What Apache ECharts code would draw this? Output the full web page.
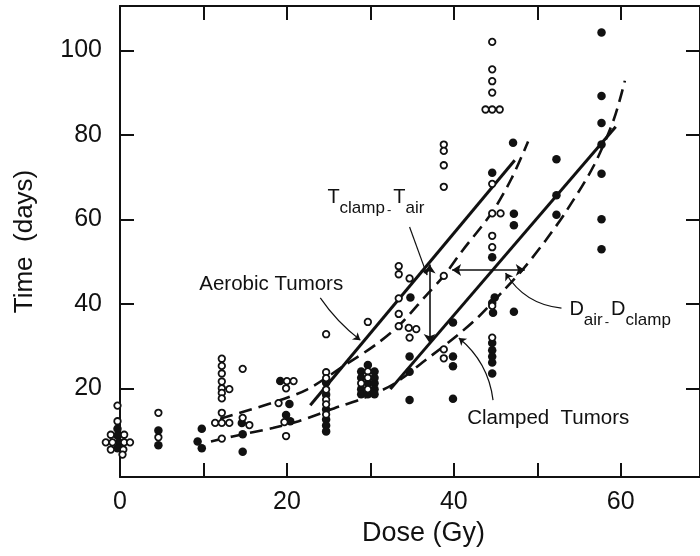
<!DOCTYPE html>
<html>
<head>
<meta charset="utf-8">
<script src="https://cdn.jsdelivr.net/npm/echarts@6/dist/echarts.min.js"></script>
<style>
html, body { margin: 0; padding: 0; background: #fff; }
#main { width: 700px; height: 556px; }
</style>
</head>
<body>
<div id="main"></div>
<script>
// open circles: aerobic tumours [dose, days]
var aerobicPts = [
  [-0.3,15.9],[-0.3,12.2],[-1.1,9.0],[0.5,9.0],[-1.7,7.2],[-0.9,7.2],[0.5,7.2],[1.2,7.2],[-1.1,5.5],[0.4,5.5],[0.3,4.3],
  [4.6,14.2],[4.6,8.4],
  [12.2,27.0],[12.2,25.3],[12.2,23.5],[12.2,21.6],[12.2,20.0],[13.1,19.8],[12.2,18.9],[12.2,17.6],
  [12.2,14.2],[11.4,11.8],[12.2,11.8],[13.1,11.8],[12.2,8.1],
  [14.7,24.6],[14.7,13.0],[15.5,11.3],
  [20.0,21.7],[20.8,21.7],[19.9,20.0],[19.0,16.5],[19.7,12.0],[19.9,8.7],
  [24.7,23.8],[24.7,22.4],[24.7,19.7],[24.7,17.3],[24.7,16.2],[24.7,13.8],[24.7,32.8],
  [29.7,24.0],[29.7,22.5],[28.9,21.2],[29.7,19.8],[29.7,35.7],
  [33.4,48.9],[33.4,47.0],[34.7,46.0],[33.4,41.3],[33.4,37.6],[33.4,34.7],[34.6,34.3],[35.5,34.0],[34.7,32.0],
  [38.8,77.7],[38.8,76.2],[38.8,72.8],[38.8,67.7],[38.8,46.6],[38.8,29.2],[38.8,27.1],
  [44.6,102.0],[44.6,95.5],[44.6,92.7],[44.6,90.0],[43.8,86.0],[44.6,86.0],[45.5,86.0],[44.6,68.4],
  [44.6,61.4],[45.6,61.4],[44.6,56.1],[44.6,53.4],[44.6,39.5],[44.6,32.0]
];
// filled circles: clamped tumours
var clampedPts = [
  [-0.3,10.4],[-0.3,8.8],[-0.1,7.2],[-0.3,5.8],
  [4.6,10.0],[4.6,6.5],
  [9.8,10.4],[9.3,7.4],[9.8,5.8],
  [14.6,11.8],[14.7,9.1],[14.7,5.0],
  [19.2,21.7],[20.3,16.3],[19.9,13.7],[20.4,12.2],
  [24.7,21.3],[24.7,18.5],[24.7,15.0],[24.7,12.6],[24.7,11.2],[24.7,9.8],
  [29.7,25.5],[28.9,24.0],[30.5,24.0],[28.9,22.5],[30.5,22.5],[29.7,21.2],[30.5,21.2],[28.9,19.8],[30.5,19.8],[28.9,18.6],[29.7,18.6],[30.5,18.6],
  [34.8,41.5],[34.7,27.5],[34.7,23.9],[34.7,17.2],
  [39.9,35.6],[39.9,27.5],[39.9,25.2],[39.9,17.5],
  [44.6,71.0],[47.1,78.1],[47.2,61.3],[47.2,58.6],[44.6,51.0],[44.9,41.5],[44.6,40.2],[44.7,37.9],[47.2,38.1],
  [44.6,30.7],[44.6,29.0],[44.6,27.5],[44.6,26.1],[44.6,23.5],
  [52.3,74.2],[52.3,65.7],[52.3,61.1],
  [57.7,104.2],[57.7,89.2],[57.7,82.8],[57.7,77.7],[57.7,70.8],[57.7,60.0],[57.7,52.9]
];

// fitted lines (solid) and curves (dashed)
var aerobicSolid = [[22.8,16.0],[47.3,74.0]];
var clampedSolid = [[32.4,19.8],[59.4,81.9]];
var aerobicDashed = [[12.0,12.8],[18.3,16.6],[22.4,19.7],[27.2,25.8],[30.7,30.4],[33.5,35.0],[36.7,42.0],
  [38.8,46.6],[41.0,52.5],[44.6,61.7],[46.9,69.6],[48.9,78.4]];
var clampedDashed = [[10.9,7.4],[13.5,8.6],[18.3,10.6],[21.4,12.2],[26.3,15.7],[28.7,17.3],[32.7,20.9],
  [36.7,26.8],[40.4,32.5],[43.0,37.0],[45.8,42.8],[48.3,48.2],[51.0,55.0],[53.5,62.0],[56.8,72.8],
  [59.2,83.8],[60.5,92.8]];

// double arrows: T_clamp - T_air (vertical), D_air - D_clamp (horizontal)
var gapArrows = [
  [[37.1,49.3],[37.1,30.7]],
  [[39.8,48.0],[48.5,48.0]]
];
// pointer lines from the labels: [from, to, curveness]
var pointers = [
  [[24.0,41.4],[28.8,31.4], -0.08],
  [[34.7,58.2],[36.8,46.8], 0],
  [[52.9,39.0],[46.2,47.3], 0.25],
  [[44.7,17.2],[40.6,31.9], -0.2]
];
var labels = [
  [[9.5,44.7], 'Aerobic Tumors'],
  [[24.85,64.0], '{m|T}{s|clamp}{d|-}{m|T}{s|air}'],
  [[53.85,37.5], '{m|D}{s|air}{d|-}{m|D}{s|clamp}'],
  [[41.6,13.0], 'Clamped  Tumors']
];

var xTicks = [10, 20, 30, 40, 50, 60];
var xLabels = [0, 20, 40, 60];
var yTicks = [20, 40, 60, 80, 100];

var FONT = '"Liberation Sans", Arial, Helvetica, sans-serif';
var INK = '#111';

var chart = echarts.init(document.getElementById('main'));

var lineAxis = { show: true, onZero: false, lineStyle: { color: INK, width: 2 } };
var tickStyle = { show: true, inside: true, length: 14, lineStyle: { color: INK, width: 2 } };

var option = {
  animation: false,
  backgroundColor: '#fff',
  grid: { left: 120, top: 6, width: 587, height: 471, containLabel: false },
  xAxis: [{
    type: 'value', min: 0, max: 69.5, position: 'bottom',
    name: 'Dose (Gy)', nameLocation: 'middle', nameGap: 40,
    nameTextStyle: { fontFamily: FONT, fontSize: 27, color: INK, padding: [0, 0, 0, 27] },
    axisLine: lineAxis,
    axisTick: Object.assign({ customValues: xTicks }, tickStyle),
    axisLabel: { customValues: xLabels, margin: 13, fontFamily: FONT, fontSize: 25, color: INK },
    splitLine: { show: false }
  }, {
    type: 'value', min: 0, max: 69.5, position: 'top',
    axisLine: lineAxis,
    axisTick: Object.assign({ customValues: xTicks }, tickStyle),
    axisLabel: { show: false }, splitLine: { show: false }
  }],
  yAxis: [{
    type: 'value', min: -1.0, max: 110.5, position: 'left',
    name: 'Time  (days)', nameLocation: 'middle', nameGap: 82, nameRotate: 90,
    nameTextStyle: { fontFamily: FONT, fontSize: 26, color: INK },
    axisLine: lineAxis,
    axisTick: Object.assign({ customValues: yTicks }, tickStyle),
    axisLabel: { customValues: yTicks, margin: 18, fontFamily: FONT, fontSize: 25, color: INK },
    splitLine: { show: false }
  }, {
    type: 'value', min: -1.0, max: 110.5, position: 'right',
    axisLine: lineAxis,
    axisTick: Object.assign({ customValues: yTicks }, tickStyle),
    axisLabel: { show: false }, splitLine: { show: false }
  }],
  series: [
    {
      type: 'line', data: aerobicSolid, showSymbol: false, silent: true, z: 2,
      lineStyle: { color: INK, width: 3 }
    },
    {
      type: 'line', data: clampedSolid, showSymbol: false, silent: true, z: 2,
      lineStyle: { color: INK, width: 3 }
    },
    {
      type: 'line', data: aerobicDashed, smooth: 0.3, showSymbol: false, silent: true, z: 2,
      lineStyle: { color: INK, width: 2.6, type: [13, 7] }
    },
    {
      type: 'line', data: clampedDashed, smooth: 0.3, showSymbol: false, silent: true, z: 2,
      lineStyle: { color: INK, width: 2.6, type: [13, 7] }
    },
    {
      type: 'lines', coordinateSystem: 'cartesian2d', silent: true, z: 3,
      symbol: ['arrow', 'arrow'], symbolSize: 9,
      lineStyle: { color: INK, width: 1.6, opacity: 1 },
      data: gapArrows.map(function (a) { return { coords: a }; })
    },
    {
      type: 'lines', coordinateSystem: 'cartesian2d', silent: true, z: 3,
      symbol: ['none', 'arrow'], symbolSize: 7,
      data: pointers.map(function (p) {
        return { coords: [p[0], p[1]], lineStyle: { color: INK, width: 1.2, opacity: 1, curveness: p[2] } };
      })
    },
    {
      type: 'scatter', data: clampedPts, clip: false, z: 4,
      symbol: 'circle', symbolSize: 8.5,
      itemStyle: { color: INK, opacity: 1 }
    },
    {
      type: 'scatter', data: aerobicPts, clip: false, z: 5,
      symbol: 'circle', symbolSize: 6.5,
      itemStyle: { color: '#fff', borderColor: INK, borderWidth: 1.8, opacity: 1 }
    },
    {
      type: 'scatter', symbolSize: 0, silent: true, z: 6,
      itemStyle: { opacity: 1 },
      data: labels.map(function (l) {
        return { value: l[0], label: { formatter: l[1] } };
      }),
      label: {
        show: true, position: 'right', distance: 0,
        fontFamily: FONT, fontSize: 20.5, color: INK,
        rich: {
          m: { fontFamily: FONT, fontSize: 20, color: INK, lineHeight: 24, verticalAlign: 'top' },
          s: { fontFamily: FONT, fontSize: 17, color: INK, lineHeight: 29, verticalAlign: 'bottom' },
          d: { fontFamily: FONT, fontSize: 13, color: INK, lineHeight: 27, verticalAlign: 'bottom', padding: [0, 2, 0, 2] }
        }
      }
    }
  ]
};

chart.setOption(option);
</script>
</body>
</html>
